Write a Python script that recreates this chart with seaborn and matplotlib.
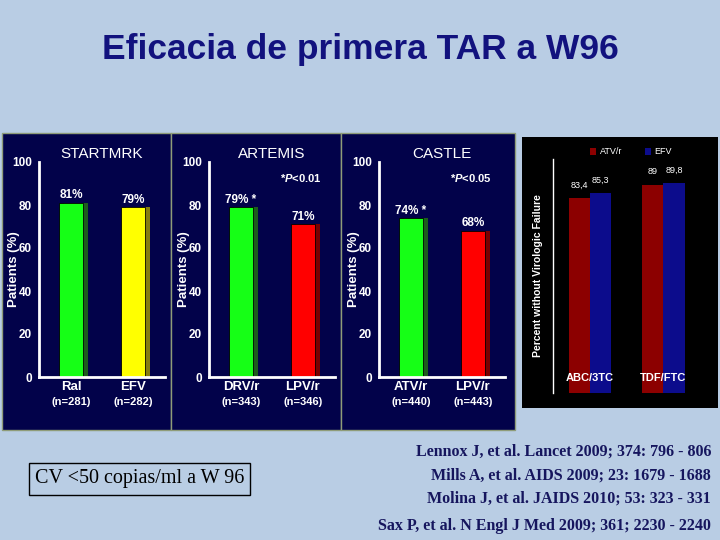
import numpy as np
import pandas as pd
import seaborn as sns
import matplotlib.pyplot as plt
from matplotlib.patches import Rectangle
from matplotlib.transforms import ScaledTranslation

# --- data ---
studies = ["STARTMRK", "ARTEMIS", "CASTLE"]
drugs = [["Ral", "EFV"], ["DRV/r", "LPV/r"], ["ATV/r", "LPV/r"]]
n_labels = [["(n=281)", "(n=282)"], ["(n=343)", "(n=346)"], ["(n=440)", "(n=443)"]]
pct = [[81, 79], [79, 71], [74, 68]]
bar_text = [["81%", "79%"], ["79% *", "71%"], ["74% *", "68%"]]
pvals = [None, "*$\\mathit{P}$<0.01", "*$\\mathit{P}$<0.05"]
bar_cols = [["#16ff16", "#ffff00"], ["#16ff16", "#ff0000"], ["#16ff16", "#ff0000"]]
shadow_cols = [["#1d5c1d", "#857d10"], ["#1d5c1d", "#7a0000"], ["#1d5c1d", "#7a0000"]]

sax_groups = ["ABC/3TC", "ABC/3TC", "TDF/FTC", "TDF/FTC"]
sax_drug = ["ATV/r", "EFV", "ATV/r", "EFV"]
sax_vals = [83.4, 85.3, 89.0, 89.8]

refs = ["Lennox J, et al. Lancet 2009; 374: 796 - 806",
        "Mills A, et al. AIDS 2009; 23: 1679 - 1688",
        "Molina J, et al. JAIDS 2010; 53: 323 - 331",
        "Sax P, et al. N Engl J Med 2009; 361; 2230 - 2240"]

sns.set_style("white")
plt.rcParams["font.family"] = ["Liberation Sans", "DejaVu Sans"]
plt.rcParams["mathtext.fontset"] = "custom"
plt.rcParams["mathtext.it"] = "Liberation Sans:italic:bold"

W, H = 720, 540
BG = "#b9cde4"
NAVY = "#02024a"
fig = plt.figure(figsize=(7.2, 5.4), dpi=100, facecolor=BG)


def fbox(x0, y0, x1, y1):
    return [x0 / W, 1 - y1 / H, (x1 - x0) / W, (y1 - y0) / H]


# panel backgrounds
for x0, x1 in [(2, 171), (171, 341), (341, 515)]:
    fig.patches.append(Rectangle((x0 / W, 1 - 430 / H), (x1 - x0) / W, 297 / H,
                                 transform=fig.transFigure, facecolor=NAVY,
                                 edgecolor="#8f9c78", lw=1, zorder=-5))
fig.patches.append(Rectangle((522 / W, 1 - 408 / H), 196 / W, 271 / H,
                             transform=fig.transFigure, facecolor="black",
                             edgecolor="none", zorder=-5))

fig.text(0.5, 1 - 49 / H, "Eficacia de primera TAR a W96", ha="center", va="center",
         fontsize=25.5, fontweight="bold", color="#12127e")

axes_x = [(39, 165), (209, 335), (379, 505)]
for i, (x0, x1) in enumerate(axes_x):
    ax = fig.add_axes(fbox(x0, 162, x1, 377))
    ax.set_facecolor("none")
    # shadow bars, shifted right
    sns.barplot(x=drugs[i], y=pct[i], hue=drugs[i], palette=shadow_cols[i],
                legend=False, width=0.39, ax=ax, saturation=1, zorder=1,
                edgecolor="none")
    nsh = len(ax.patches)
    off = ScaledTranslation(5 / 100, 0, fig.dpi_scale_trans)
    for p in ax.patches[:nsh]:
        p.set_transform(ax.transData + off)
    sns.barplot(x=drugs[i], y=pct[i], hue=drugs[i], palette=bar_cols[i],
                legend=False, width=0.39, ax=ax, saturation=1, zorder=2,
                edgecolor="black", linewidth=0.6)
    for c, cont in enumerate(ax.containers[len(drugs[i]):]):
        ax.bar_label(cont, labels=[bar_text[i][c]], padding=1, color="white",
                     fontsize=8.5, fontweight="bold")
    ax.set_xlim(-0.52, 1.52)
    ax.set_ylim(0, 100)
    ax.set_yticks([0, 20, 40, 60, 80, 100])
    ax.tick_params(axis="y", direction="out", length=4, width=1.2, colors="white",
                   labelsize=8.5, pad=1)
    ax.tick_params(axis="x", length=0, colors="white", labelsize=9.5, pad=3)
    for lab in ax.get_yticklabels() + ax.get_xticklabels():
        lab.set_fontweight("bold")
    for j, nl in enumerate(n_labels[i]):
        ax.annotate(nl, xy=(j, 0), xytext=(0, -18), textcoords="offset points",
                    ha="center", va="center", color="white", fontsize=8,
                    fontweight="bold")
    ax.set_ylabel("Patients (%)", color="white", fontsize=9.5, fontweight="bold")
    ax.yaxis.set_label_coords(-0.15, 0.5)
    ax.set_xlabel("")
    for s in ["top", "right"]:
        ax.spines[s].set_visible(False)
    for s in ["left", "bottom"]:
        ax.spines[s].set_color("white")
        ax.spines[s].set_linewidth(2)
    ax.set_title(studies[i], color="white", fontsize=11, pad=3)
    if pvals[i]:
        ax.text(0.73, 0.925, pvals[i], transform=ax.transAxes, ha="center",
                va="center", color="white", fontsize=8, fontweight="bold")

# Sax panel
df4 = pd.DataFrame({"group": sax_groups, "drug": sax_drug, "value": sax_vals})
ax4 = fig.add_axes(fbox(553, 159, 700, 393))
ax4.set_facecolor("none")
sns.barplot(data=df4, x="group", y="value", hue="drug",
            palette={"ATV/r": "#8c0000", "EFV": "#0c0c8c"}, width=0.58,
            saturation=1, edgecolor="none", ax=ax4)
for cont in ax4.containers:
    ax4.bar_label(cont, labels=[f"{v:g}".replace(".", ",") for v in cont.datavalues],
                  padding=6, color="white", fontsize=6.5)
ax4.set_xlim(-0.507, 1.5)
ax4.set_ylim(0, 100)
ax4.set_xticks([])
ax4.set_yticks([])
ax4.set_xlabel("")
ax4.set_ylabel("Percent without Virologic Failure", color="white", fontsize=7.5,
               fontweight="bold")
ax4.yaxis.set_label_coords(-0.07, 0.5)
for s in ["top", "right", "bottom"]:
    ax4.spines[s].set_visible(False)
ax4.spines["left"].set_color("white")
ax4.spines["left"].set_linewidth(1)
for k, g in enumerate(["ABC/3TC", "TDF/FTC"]):
    ax4.text(k, 6.5, g, ha="center", va="center", color="white", fontsize=8,
             fontweight="bold")
sns.move_legend(ax4, loc="center", bbox_to_anchor=(631 / W, 1 - 152 / H),
                bbox_transform=fig.transFigure, ncol=2, frameon=False, title=None,
                fontsize=6.5, labelcolor="white", handlelength=0.7,
                handleheight=0.9, handletextpad=0.4, columnspacing=2.5)
for h in ax4.get_legend().legend_handles:
    h.set_edgecolor("none")

# bottom texts
fig.text(35 / W, 1 - 479 / H, "CV <50 copias/ml a W 96", ha="left", va="center",
         fontsize=14.5, family="Liberation Serif", color="black",
         bbox=dict(boxstyle="square,pad=0.3", facecolor="none", edgecolor="black",
                   lw=1))
for k, (r, y) in enumerate(zip(refs, [452, 476, 499, 526])):
    fig.text(711 / W, 1 - y / H, r, ha="right", va="center", fontsize=11.5,
             family="Liberation Serif", fontweight="bold", color="#16165e")

fig.savefig("out.png", dpi=100, facecolor=BG)
